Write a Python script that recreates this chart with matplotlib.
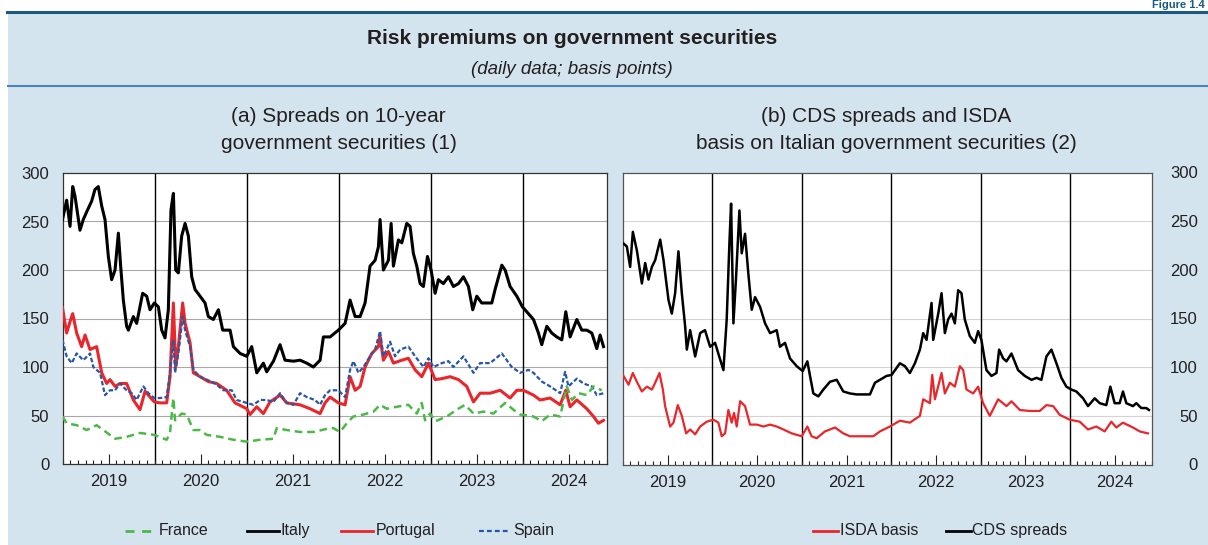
import numpy as np
import matplotlib
matplotlib.use("Agg")
import matplotlib.pyplot as plt
from matplotlib.lines import Line2D
from matplotlib.patches import Rectangle

plt.rcParams['font.family'] = ['Liberation Sans', 'DejaVu Sans']
plt.rcParams['lines.scale_dashes'] = False

# ---------------- data (decimal years, basis points) ----------------
italy_t = [2019.000, 2019.045, 2019.082, 2019.111, 2019.136, 2019.190, 2019.226, 2019.263, 2019.317, 2019.353,
           2019.389, 2019.426, 2019.462, 2019.498, 2019.534, 2019.571, 2019.607, 2019.632, 2019.661, 2019.697,
           2019.716, 2019.770, 2019.806, 2019.871, 2019.915, 2019.951, 2019.998, 2020.042, 2020.078, 2020.114,
           2020.150, 2020.179, 2020.205, 2020.230, 2020.259, 2020.295, 2020.332, 2020.368, 2020.404, 2020.440,
           2020.495, 2020.549, 2020.585, 2020.639, 2020.694, 2020.741, 2020.821, 2020.857, 2020.929, 2021.002,
           2021.056, 2021.111, 2021.183, 2021.219, 2021.292, 2021.364, 2021.418, 2021.509, 2021.582, 2021.654,
           2021.726, 2021.799, 2021.835, 2021.908, 2021.998, 2022.071, 2022.125, 2022.180, 2022.234, 2022.288,
           2022.342, 2022.397, 2022.433, 2022.451, 2022.487, 2022.542, 2022.571, 2022.596, 2022.650, 2022.687,
           2022.741, 2022.777, 2022.813, 2022.850, 2022.886, 2022.922, 2022.966, 2023.005, 2023.049, 2023.085,
           2023.139, 2023.194, 2023.248, 2023.303, 2023.357, 2023.411, 2023.458, 2023.502, 2023.556, 2023.611,
           2023.665, 2023.701, 2023.774, 2023.810, 2023.864, 2023.937, 2023.998, 2024.063, 2024.118, 2024.172,
           2024.208, 2024.263, 2024.317, 2024.371, 2024.426, 2024.469, 2024.516, 2024.589, 2024.643, 2024.697,
           2024.752, 2024.806, 2024.842, 2024.879]
italy = [252, 272, 245, 286, 276, 241, 252, 260, 271, 283,
         286, 266, 252, 214, 190, 200, 238, 204, 169, 142,
         138, 152, 145, 176, 173, 159, 166, 162, 138, 130,
         159, 262, 279, 200, 197, 235, 248, 235, 193, 180,
         173, 166, 152, 149, 159, 138, 138, 121, 114, 111,
         121, 94, 104, 95, 106, 123, 107, 106, 107, 104,
         100, 107, 131, 131, 138, 145, 169, 152, 152, 166,
         204, 210, 224, 252, 200, 210, 248, 204, 231, 228,
         248, 245, 217, 204, 186, 183, 214, 200, 176, 190,
         186, 193, 183, 186, 193, 183, 159, 173, 166, 166,
         166, 180, 205, 200, 183, 173, 162, 155, 149, 135,
         123, 142, 135, 131, 128, 157, 131, 149, 138, 138,
         135, 119, 133, 121]

spain_t = [2019.000, 2019.045, 2019.100, 2019.154, 2019.226, 2019.299, 2019.335, 2019.408, 2019.462, 2019.516,
           2019.571, 2019.625, 2019.697, 2019.752, 2019.806, 2019.879, 2019.933, 2019.998, 2020.060, 2020.132,
           2020.168, 2020.205, 2020.223, 2020.259, 2020.306, 2020.332, 2020.386, 2020.422, 2020.495, 2020.567,
           2020.658, 2020.748, 2020.839, 2020.893, 2021.002, 2021.074, 2021.147, 2021.219, 2021.292, 2021.364,
           2021.437, 2021.509, 2021.582, 2021.654, 2021.745, 2021.799, 2021.853, 2021.908, 2021.998, 2022.071,
           2022.125, 2022.161, 2022.216, 2022.270, 2022.342, 2022.397, 2022.451, 2022.487, 2022.560, 2022.614,
           2022.669, 2022.759, 2022.832, 2022.922, 2022.977, 2023.031, 2023.122, 2023.194, 2023.248, 2023.357,
           2023.466, 2023.538, 2023.647, 2023.774, 2023.882, 2023.973, 2024.063, 2024.118, 2024.208, 2024.299,
           2024.408, 2024.462, 2024.498, 2024.589, 2024.661, 2024.752, 2024.806, 2024.879]
spain = [128, 111, 104, 114, 107, 114, 100, 94, 71, 76,
         76, 83, 76, 73, 66, 80, 73, 68, 68, 69,
         94, 128, 94, 114, 152, 138, 121, 97, 90, 87,
         83, 76, 76, 66, 63, 61, 66, 66, 64, 73,
         63, 61, 73, 69, 66, 61, 71, 76, 76, 69,
         97, 106, 94, 100, 111, 118, 137, 111, 126, 111,
         118, 121, 111, 100, 109, 100, 104, 106, 100, 111,
         94, 104, 104, 114, 100, 94, 97, 94, 85, 80,
         73, 95, 80, 88, 83, 80, 71, 73]

portugal_t = [2019.000, 2019.045, 2019.089, 2019.111, 2019.154, 2019.208, 2019.245, 2019.299, 2019.371, 2019.426,
              2019.480, 2019.516, 2019.571, 2019.625, 2019.697, 2019.770, 2019.842, 2019.897, 2019.951, 2019.998,
              2020.060, 2020.132, 2020.168, 2020.205, 2020.230, 2020.259, 2020.306, 2020.332, 2020.386, 2020.422,
              2020.495, 2020.585, 2020.676, 2020.784, 2020.875, 2021.002, 2021.038, 2021.111, 2021.183, 2021.255,
              2021.364, 2021.437, 2021.582, 2021.690, 2021.799, 2021.853, 2021.908, 2021.998, 2022.071, 2022.125,
              2022.180, 2022.234, 2022.288, 2022.361, 2022.433, 2022.451, 2022.487, 2022.542, 2022.596, 2022.687,
              2022.759, 2022.832, 2022.904, 2022.977, 2023.049, 2023.122, 2023.212, 2023.303, 2023.393, 2023.466,
              2023.538, 2023.647, 2023.756, 2023.864, 2023.937, 2024.009, 2024.118, 2024.190, 2024.299, 2024.408,
              2024.469, 2024.516, 2024.589, 2024.697, 2024.770, 2024.824, 2024.879]
portugal = [161, 135, 149, 155, 135, 121, 133, 118, 121, 94,
            83, 87, 80, 83, 83, 66, 56, 75, 69, 64,
            63, 63, 90, 166, 100, 121, 166, 145, 125, 94,
            90, 85, 83, 76, 63, 57, 51, 59, 52, 64,
            71, 63, 61, 57, 52, 63, 69, 63, 61, 90,
            76, 80, 100, 114, 121, 131, 107, 116, 104, 107,
            109, 97, 90, 104, 87, 88, 90, 87, 80, 64,
            73, 73, 76, 68, 76, 76, 71, 66, 68, 61,
            76, 59, 66, 57, 49, 42, 45]

france_t = [2019.000, 2019.045, 2019.154, 2019.263, 2019.371, 2019.444, 2019.571, 2019.697, 2019.842, 2019.998,
            2020.132, 2020.168, 2020.205, 2020.223, 2020.295, 2020.350, 2020.422, 2020.495, 2020.567, 2020.712,
            2020.857, 2021.002, 2021.147, 2021.292, 2021.328, 2021.437, 2021.582, 2021.726, 2021.908, 2021.944,
            2022.016, 2022.089, 2022.161, 2022.270, 2022.379, 2022.451, 2022.524, 2022.632, 2022.759, 2022.850,
            2022.904, 2022.940, 2022.995, 2023.049, 2023.176, 2023.284, 2023.375, 2023.466, 2023.574, 2023.683,
            2023.810, 2023.900, 2023.973, 2024.118, 2024.208, 2024.299, 2024.408, 2024.480, 2024.536, 2024.609,
            2024.697, 2024.770, 2024.860]
france = [49, 42, 40, 35, 40, 35, 26, 28, 32, 30,
          25, 32, 68, 45, 52, 51, 35, 35, 30, 28,
          25, 23, 25, 26, 37, 35, 33, 33, 37, 37,
          33, 42, 49, 51, 54, 61, 57, 59, 61, 52,
          63, 45, 52, 44, 49, 56, 61, 52, 54, 52,
          63, 56, 51, 49, 44, 51, 49, 80, 66, 73,
          71, 80, 76]

cds_t = [2019.006, 2019.043, 2019.080, 2019.110, 2019.155, 2019.211, 2019.248, 2019.285, 2019.323, 2019.360,
         2019.416, 2019.453, 2019.509, 2019.546, 2019.583, 2019.620, 2019.658, 2019.695, 2019.714, 2019.751,
         2019.807, 2019.863, 2019.917, 2019.974, 2020.030, 2020.086, 2020.123, 2020.160, 2020.190, 2020.209,
         2020.235, 2020.265, 2020.302, 2020.328, 2020.365, 2020.402, 2020.440, 2020.477, 2020.533, 2020.589,
         2020.645, 2020.719, 2020.756, 2020.812, 2020.868, 2020.943, 2021.010, 2021.062, 2021.092, 2021.129,
         2021.185, 2021.241, 2021.315, 2021.390, 2021.464, 2021.539, 2021.613, 2021.688, 2021.762, 2021.818,
         2021.874, 2021.948, 2022.004, 2022.097, 2022.153, 2022.209, 2022.265, 2022.321, 2022.358, 2022.395,
         2022.451, 2022.470, 2022.526, 2022.563, 2022.600, 2022.637, 2022.675, 2022.712, 2022.749, 2022.786,
         2022.823, 2022.879, 2022.935, 2022.972, 2023.009, 2023.065, 2023.121, 2023.177, 2023.207, 2023.252,
         2023.289, 2023.345, 2023.419, 2023.494, 2023.569, 2023.625, 2023.680, 2023.736, 2023.792, 2023.848,
         2023.904, 2023.959, 2024.015, 2024.071, 2024.146, 2024.201, 2024.276, 2024.332, 2024.406, 2024.451,
         2024.499, 2024.555, 2024.592, 2024.630, 2024.704, 2024.742, 2024.797, 2024.853, 2024.883]
cds = [227, 224, 203, 239, 220, 186, 207, 190, 203, 210,
       231, 210, 169, 155, 176, 219, 176, 142, 118, 138,
       111, 135, 138, 121, 125, 108, 97, 149, 227, 268,
       145, 193, 261, 217, 237, 196, 159, 172, 162, 145,
       135, 138, 121, 125, 109, 101, 96, 106, 91, 73,
       70, 77, 85, 87, 75, 73, 72, 72, 72, 84,
       87, 91, 92, 104, 101, 94, 104, 118, 135, 128,
       166, 128, 155, 176, 135, 149, 155, 145, 179, 176,
       149, 132, 125, 137, 128, 97, 91, 94, 118, 109,
       106, 114, 97, 91, 87, 89, 87, 111, 118, 104,
       89, 80, 77, 75, 68, 60, 68, 63, 61, 80,
       63, 63, 75, 63, 60, 63, 58, 58, 56]

isda_t = [2019.006, 2019.062, 2019.110, 2019.155, 2019.211, 2019.267, 2019.323, 2019.360, 2019.408, 2019.446,
          2019.471, 2019.527, 2019.565, 2019.613, 2019.658, 2019.706, 2019.751, 2019.807, 2019.863, 2019.937,
          2020.011, 2020.067, 2020.104, 2020.142, 2020.179, 2020.216, 2020.242, 2020.272, 2020.310, 2020.365,
          2020.421, 2020.496, 2020.570, 2020.645, 2020.719, 2020.794, 2020.887, 2020.999, 2021.062, 2021.110,
          2021.166, 2021.259, 2021.371, 2021.464, 2021.539, 2021.688, 2021.799, 2021.874, 2021.985, 2022.097,
          2022.209, 2022.321, 2022.358, 2022.433, 2022.459, 2022.489, 2022.563, 2022.600, 2022.656, 2022.712,
          2022.768, 2022.805, 2022.842, 2022.917, 2022.972, 2023.028, 2023.103, 2023.196, 2023.289, 2023.345,
          2023.438, 2023.550, 2023.661, 2023.736, 2023.811, 2023.885, 2023.997, 2024.109, 2024.201, 2024.295,
          2024.388, 2024.462, 2024.518, 2024.592, 2024.704, 2024.779, 2024.872]
isda = [91, 82, 94, 85, 75, 80, 77, 84, 94, 77,
        60, 39, 43, 61, 50, 32, 36, 31, 39, 44,
        46, 43, 29, 32, 56, 43, 53, 39, 65, 60,
        41, 41, 39, 41, 39, 36, 32, 29, 39, 29,
        27, 34, 38, 32, 29, 29, 29, 34, 39, 45,
        43, 50, 67, 63, 92, 67, 94, 73, 84, 80,
        101, 97, 77, 73, 80, 63, 50, 67, 60, 65,
        56, 55, 55, 61, 60, 51, 46, 44, 36, 39,
        34, 44, 38, 43, 38, 34, 32]

years = [2019, 2020, 2021, 2022, 2023, 2024]
year_labels = [str(y) for y in years]
yticks = [0, 50, 100, 150, 200, 250, 300]

# ---------------- layout ----------------
W, H = 1208, 545
fig = plt.figure(figsize=(W / 100, H / 100), dpi=100)
fig.patch.set_facecolor('white')


def fx(px):
    return px / W


def fy(py):
    return 1 - py / H


BG = '#d3e4ee'
TXT = '#231f20'
RED = '#e8262b'
BLUE = '#2757a8'
GREEN = '#4cb848'
DARKBLUE = '#1b5a80'

fig.add_artist(Rectangle((fx(8), 0), 1 - fx(8), fy(12), transform=fig.transFigure,
                         facecolor=BG, edgecolor='none', zorder=-10))
fig.add_artist(Line2D([fx(7), 1], [fy(12), fy(12)], transform=fig.transFigure,
                      color=DARKBLUE, lw=2.2, zorder=-5))
fig.add_artist(Line2D([fx(8), 1], [fy(86), fy(86)], transform=fig.transFigure,
                      color='#4a86b0', lw=1.5, zorder=-5))

fig.text(fx(1205), fy(0.5), 'Figure 1.4', fontsize=8, fontweight='bold', color=DARKBLUE,
         ha='right', va='top')
fig.text(fx(572.5), fy(38), 'Risk premiums on government securities', fontsize=15,
         fontweight='bold', color=TXT, ha='center', va='center')
fig.text(fx(572), fy(69), '(daily data; basis points)', fontsize=13.5, fontstyle='italic',
         color=TXT, ha='center', va='center')

PT = 15
fig.text(fx(338.5), fy(117), '(a) Spreads on 10-year', fontsize=PT, color=TXT, ha='center', va='center')
fig.text(fx(338.5), fy(143), 'government securities (1)', fontsize=PT, color=TXT, ha='center', va='center')
fig.text(fx(886.5), fy(117), '(b) CDS spreads and ISDA', fontsize=PT, color=TXT, ha='center', va='center')
fig.text(fx(886.5), fy(143), 'basis on Italian government securities (2)', fontsize=PT, color=TXT,
         ha='center', va='center')

axL = fig.add_axes([fx(62.5), fy(464), (607 - 62.5) / W, (464 - 173) / H])
axR = fig.add_axes([fx(623), fy(464.5), (1152 - 623) / W, (464.5 - 172.5) / H])


def style(ax, gridcolor, spinecolor):
    ax.set_facecolor('white')
    ax.set_xlim(2019, 2024.917)
    ax.set_ylim(0, 300)
    ax.set_yticks(yticks)
    ax.set_xticks([y + 0.5 for y in years])
    ax.set_xticklabels(year_labels)
    ax.set_xticks(np.arange(2019, 2024.92, 1 / 12), minor=True)
    ax.tick_params(axis='x', which='major', direction='in', length=7.2, width=0.8,
                   pad=7.5, labelsize=12, labelcolor=TXT, color='#222222')
    ax.tick_params(axis='x', which='minor', direction='in', length=3.2, width=0.8, color='#222222')
    ax.tick_params(axis='y', length=0, labelsize=12, labelcolor=TXT)
    for v in yticks[1:-1]:
        ax.axhline(v, color=gridcolor, lw=0.8, zorder=1)
    for yr in years[1:]:
        ax.axvline(yr, color='black', lw=1.0, zorder=1)
    for s in ax.spines.values():
        s.set_color(spinecolor)
        s.set_linewidth(0.9)


style(axL, '#a8a8a8', '#333333')
style(axR, '#d4d4d4', '#555555')
axL.tick_params(axis='y', pad=9.5)
axR.yaxis.tick_right()
axR.tick_params(axis='y', pad=33)
for lab in axR.get_yticklabels():
    lab.set_ha('right')

# left panel series
axL.plot(portugal_t, portugal, color=RED, lw=2.2, zorder=3)
axL.plot(spain_t, spain, color=BLUE, lw=1.6, dashes=(3.2, 1.6), zorder=4)
axL.plot(france_t, france, color=GREEN, lw=1.8, dashes=(5.5, 3.5), zorder=4)
axL.plot(italy_t, italy, color='black', lw=2.2, zorder=5)

# right panel series
axR.plot(isda_t, isda, color=RED, lw=1.6, zorder=3)
axR.plot(cds_t, cds, color='black', lw=1.8, zorder=4)

# legends (drawn manually to match spacing)
LY = fy(530.5)


def leg(x0, x1, xt, label, **kw):
    fig.add_artist(Line2D([fx(x0), fx(x1)], [LY, LY], transform=fig.transFigure, **kw))
    fig.text(fx(xt), LY, label, fontsize=11.5, color=TXT, ha='left', va='center')


leg(125, 152, 159, 'France', color=GREEN, lw=2, dashes=(6.5, 5.5))
leg(247, 279, 281, 'Italy', color='black', lw=2)
leg(341, 373, 376, 'Portugal', color=RED, lw=2)
leg(479, 510, 513, 'Spain', color=BLUE, lw=1.6, dashes=(3.5, 2.2))
leg(813, 838, 840, 'ISDA basis', color=RED, lw=2)
leg(946, 971, 972, 'CDS spreads', color='black', lw=2)

fig.savefig('out.png', dpi=100, facecolor=fig.get_facecolor())
